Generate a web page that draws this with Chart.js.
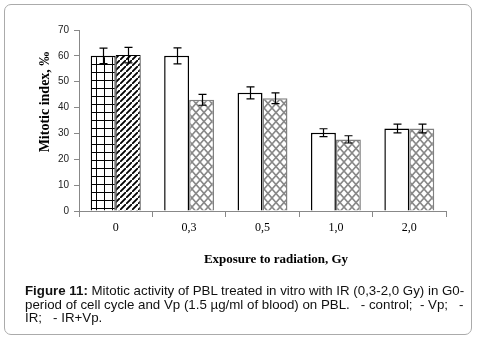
<!DOCTYPE html>
<html>
<head>
<meta charset="utf-8">
<script src="https://cdn.jsdelivr.net/npm/chart.js@4/dist/chart.umd.min.js"></script>
<style>
  html, body { margin: 0; padding: 0; background: #fff; }
  #wrap { position: relative; width: 479px; height: 342px; overflow: hidden; }
  #c { position: absolute; left: 0; top: 0; }
  #frame {
    position: absolute; left: 4px; top: 4px; width: 466px; height: 329px;
    border: 1.5px solid #ababab; border-radius: 7px; pointer-events: none;
  }
  #caption {
    position: absolute; left: 25px; top: 284.3px;
    font-family: "Liberation Sans", Arial, sans-serif; font-size: 13.3px;
    line-height: 13.6px; color: #111; white-space: pre;
  }
</style>
</head>
<body>
<div id="wrap">
  <canvas id="c" width="479" height="275"></canvas>
  <div id="frame"></div>
  <div id="caption"><b>Figure 11:</b> Mitotic activity of PBL treated in vitro with IR (0,3-2,0 Gy) in G0-
period of cell cycle and Vp (1.5 µg/ml of blood) on PBL.   - control;  - Vp;   -
IR;   - IR+Vp.</div>
</div>
<script>
// Radiation doses (Gy)
const doses = ['0', '0,3', '0,5', '1,0', '2,0'];
const yTicks = [0, 10, 20, 30, 40, 50, 60, 70];

// Mitotic index, ‰ (mean values)
const control = [60.0, null, null, null, null];
const vp      = [60.3, null, null, null, null];
const ir      = [null, 60.0, 45.7, 30.3, 31.9];
const irVp    = [null, 43.0, 43.6, 27.7, 31.9];

// Standard errors
const controlErr = [3.0, null, null, null, null];
const vpErr      = [3.0, null, null, null, null];
const irErr      = [null, 3.1, 2.3, 1.5, 1.7];
const irVpErr    = [null, 2.1, 2.1, 1.4, 1.7];

// --- fill patterns ---
function tile(w, h, draw) {
  const t = document.createElement('canvas');
  t.width = w; t.height = h;
  const g = t.getContext('2d');
  g.fillStyle = '#fff';
  g.fillRect(0, 0, w, h);
  draw(g, w, h);
  return document.getElementById('c').getContext('2d').createPattern(t, 'repeat');
}
const gridFill = tile(8, 8, (g) => {
  g.fillStyle = '#000';
  g.fillRect(0, 0, 8, 1);
  g.fillRect(0, 0, 1, 8);
});
const hatchFill = tile(6, 6, (g, w, h) => {
  g.strokeStyle = '#000';
  g.lineWidth = 1.8;
  g.beginPath();
  g.moveTo(-1, h + 1); g.lineTo(w + 1, -1);
  g.moveTo(-2, 1); g.lineTo(1, -2);
  g.moveTo(w - 1, h + 2); g.lineTo(w + 2, h - 1);
  g.stroke();
});
const diamondFill = tile(8, 9, (g, w, h) => {
  g.strokeStyle = '#888';
  g.lineWidth = 1.6;
  g.beginPath();
  g.moveTo(0, 0); g.lineTo(w, h);
  g.moveTo(w, 0); g.lineTo(0, h);
  g.stroke();
});

// --- error bars ---
const errorBars = {
  id: 'errorBars',
  afterDatasetsDraw(chart) {
    const ctx = chart.ctx;
    const y = chart.scales.y;
    ctx.save();
    ctx.strokeStyle = '#000';
    ctx.lineWidth = 1.2;
    chart.data.datasets.forEach((ds, di) => {
      const meta = chart.getDatasetMeta(di);
      ds.data.forEach((v, i) => {
        const e = ds.errors[i];
        if (v == null || e == null) return;
        const bar = meta.data[i];
        const x = Math.round(bar.x) + 0.5;
        const yt = y.getPixelForValue(v + e);
        const yb = y.getPixelForValue(v - e);
        ctx.beginPath();
        ctx.moveTo(x, yt); ctx.lineTo(x, yb);
        ctx.moveTo(x - 4, yt); ctx.lineTo(x + 4, yt);
        ctx.moveTo(x - 4, yb); ctx.lineTo(x + 4, yb);
        ctx.stroke();
      });
    });
    ctx.restore();
  }
};

// --- axis titles ---
const axisTitles = {
  id: 'axisTitles',
  afterDraw(chart) {
    const ctx = chart.ctx;
    ctx.save();
    ctx.fillStyle = '#000';
    ctx.textAlign = 'center';
    ctx.textBaseline = 'middle';
    ctx.font = 'bold 13px "Liberation Serif", "Times New Roman", serif';
    ctx.fillText('Exposure to radiation, Gy', 276, 260);
    ctx.font = 'bold 14px "Liberation Serif", "Times New Roman", serif';
    ctx.translate(45, 102);
    ctx.rotate(-Math.PI / 2);
    ctx.fillText('Mitotic index, ‰', 0, 0);
    ctx.restore();
  }
};

const common = { skipNull: true, categoryPercentage: 0.68, barPercentage: 1.0 };

new Chart(document.getElementById('c'), {
  type: 'bar',
  data: {
    labels: doses,
    datasets: [
      { label: 'control', data: control, errors: controlErr, backgroundColor: gridFill, borderColor: '#000', borderWidth: 1.3, ...common },
      { label: 'Vp', data: vp, errors: vpErr, backgroundColor: hatchFill, borderColor: '#000', borderWidth: 1, ...common },
      { label: 'IR', data: ir, errors: irErr, backgroundColor: '#fff', borderColor: '#000', borderWidth: 1.5, ...common },
      { label: 'IR+Vp', data: irVp, errors: irVpErr, backgroundColor: diamondFill, borderColor: '#808080', borderWidth: 1.5, ...common }
    ]
  },
  options: {
    responsive: false,
    animation: false,
    devicePixelRatio: 1,
    layout: { padding: { left: 0, right: 33, top: 30, bottom: 0 } },
    plugins: { legend: { display: false }, tooltip: { enabled: false }, title: { display: false } },
    scales: {
      x: {
        grid: { display: true, drawOnChartArea: false, offset: true, tickLength: 6, color: '#888', lineWidth: 1 },
        border: { color: '#888', width: 1 },
        ticks: { color: '#000', padding: 4, font: { family: '"Liberation Serif", "Times New Roman", serif', size: 12 } },
        afterFit(s) { s.height = 64; }
      },
      y: {
        min: 0, max: 70,
        afterBuildTicks(s) { s.ticks = yTicks.map(v => ({ value: v })); },
        grid: { display: true, drawOnChartArea: false, tickLength: 5, color: '#888', lineWidth: 1 },
        border: { color: '#888', width: 1 },
        ticks: { color: '#222', padding: 5, font: { family: '"Liberation Sans", Arial, sans-serif', size: 10 } },
        afterFit(s) { s.width = 79; }
      }
    }
  },
  plugins: [errorBars, axisTitles]
});
</script>
</body>
</html>
